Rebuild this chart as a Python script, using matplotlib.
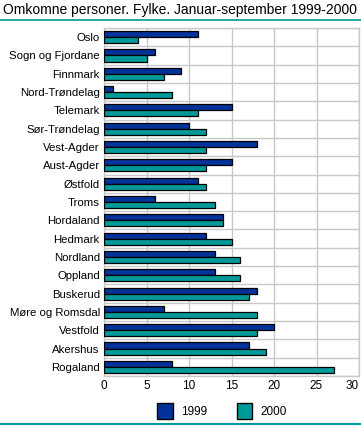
import numpy as np
import matplotlib.pyplot as plt
from matplotlib.patches import Patch
from matplotlib.lines import Line2D

fylker = ['Oslo', 'Sogn og Fjordane', 'Finnmark', 'Nord-Trøndelag', 'Telemark',
          'Sør-Trøndelag', 'Vest-Agder', 'Aust-Agder', 'Østfold', 'Troms',
          'Hordaland', 'Hedmark', 'Nordland', 'Oppland', 'Buskerud',
          'Møre og Romsdal', 'Vestfold', 'Akershus', 'Rogaland']
v1999 = [11, 6, 9, 1, 15, 10, 18, 15, 11, 6, 14, 12, 13, 13, 18, 7, 20, 17, 8]
v2000 = [4, 5, 7, 8, 11, 12, 12, 12, 12, 13, 14, 15, 16, 16, 17, 18, 18, 19, 27]
years = ['1999', '2000']
xticks = [0, 5, 10, 15, 20, 25, 30]

c1999 = '#003399'
c2000 = '#009999'
grid = '#c8c8c8'

plt.rcParams['font.family'] = ['Liberation Sans', 'DejaVu Sans']

fig = plt.figure(figsize=(3.61, 4.26), dpi=100)
ax = fig.add_axes([104/361, 1 - 376/426, 255/361, 348/426])

y = np.arange(len(fylker))
h = 0.33
ax.barh(y - h/2, v1999, height=h, color=c1999, edgecolor='black', linewidth=0.9, zorder=3)
ax.barh(y + h/2, v2000, height=h, color=c2000, edgecolor='black', linewidth=0.9, zorder=3)

ax.set_ylim(len(fylker) - 0.5, -0.5)
ax.set_xlim(0, 30)
ax.set_yticks(y)
ax.set_yticklabels(fylker, fontsize=8.2)
ax.set_xticks(xticks)
ax.set_xticklabels([str(t) for t in xticks], fontsize=8.5)
ax.get_xticklabels()[-1].set_ha('right')
ax.set_yticks(np.arange(len(fylker) + 1) - 0.5, minor=True)
ax.tick_params(axis='both', which='both', length=0, pad=3)
ax.grid(True, axis='x', which='major', color=grid, linewidth=1, zorder=0)
ax.grid(True, axis='y', which='minor', color=grid, linewidth=1, zorder=0)
for s in ax.spines.values():
    s.set_color(grid)
    s.set_linewidth(1)

fig.text(3/361, 1 - 10/426, 'Omkomne personer. Fylke. Januar-september 1999-2000',
         fontsize=10, va='center', ha='left')
fig.add_artist(Line2D([0, 1], [1 - 20/426, 1 - 20/426], color=c2000, linewidth=1.2))
fig.add_artist(Line2D([0, 1], [1 - 424/426, 1 - 424/426], color=c2000, linewidth=1.5))

handles = [Patch(facecolor=c1999, edgecolor='black'), Patch(facecolor=c2000, edgecolor='black')]
fig.legend(handles, years, loc='center', bbox_to_anchor=(222/361, 1 - 411/426), ncol=2,
           frameon=False, fontsize=8.5, handlelength=1.3, handleheight=1.6,
           columnspacing=2.5, handletextpad=0.7)

fig.savefig('out.png', dpi=100)
